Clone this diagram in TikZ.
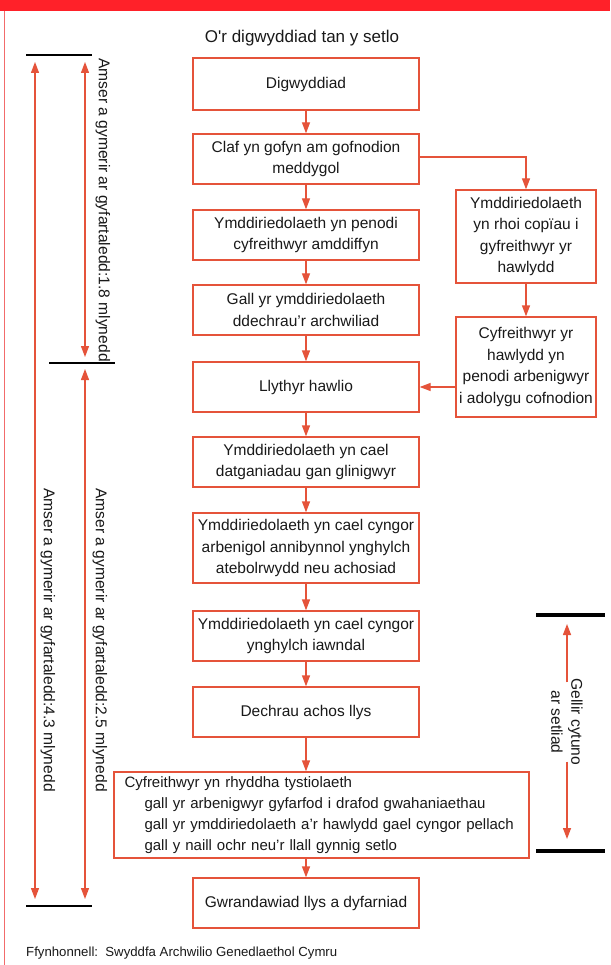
\documentclass[tikz,border=0pt]{standalone}
\usepackage{fontspec}
\setmainfont{Liberation Sans}
\usetikzlibrary{arrows.meta}
\definecolor{lnred}{HTML}{E5533A}
\definecolor{barred}{HTML}{FF2129}
\definecolor{brdred}{HTML}{F26B6B}
\tikzset{
  box/.style={draw=lnred, line width=1.3pt, minimum width=226pt, minimum height=50pt, align=center, inner sep=0pt, font=\fontsize{15.5}{21.5}\selectfont, text=black!90},
  rbox/.style={box, minimum width=140pt},
  flow/.style={draw=lnred, line width=1.3pt, -{Triangle[length=11pt,width=8pt]}},
  dflow/.style={draw=lnred, line width=1.3pt, {Triangle[length=11pt,width=8pt]}-{Triangle[length=11pt,width=8pt]}},
  tick/.style={draw=black, line width=1.2pt},
  thick tick/.style={draw=black, line width=4.5pt},
  vlabel/.style={rotate=-90, font=\fontsize{15.6}{20}\selectfont, text=black!90, align=center, inner sep=0pt}
}
\begin{document}
\begin{tikzpicture}[x=1pt,y=-1pt]
\useasboundingbox (0,0) rectangle (610,965);
\fill[white] (0,0) rectangle (610,965);
% frame
\fill[barred] (0,0) rectangle (610,11);
\draw[brdred, line width=1.5pt] (4.5,11) -- (4.5,965);
% title
\node[font=\fontsize{17}{20}\selectfont, text=black!90] (title) at (302,38) {O\textquotesingle r digwyddiad tan y setlo};
% main column
\node[box, minimum height=52pt] (dig) at (306,84) {Digwyddiad};
\node[box] (claf) at (306,159) {Claf yn gofyn am gofnodion\\meddygol};
\node[box] (penodi) at (306,235) {Ymddiriedolaeth yn penodi\\cyfreithwyr amddiffyn};
\node[box] (gall) at (306,310) {Gall yr ymddiriedolaeth\\ddechrau’r archwiliad};
\node[box] (llythyr) at (306,387) {Llythyr hawlio};
\node[box] (datg) at (306,462) {Ymddiriedolaeth yn cael\\datganiadau gan glinigwyr};
\node[box, minimum height=70pt] (arben) at (306,548) {Ymddiriedolaeth yn cael cyngor\\arbenigol annibynnol ynghylch\\atebolrwydd neu achosiad};
\node[box] (iawndal) at (306,636) {Ymddiriedolaeth yn cael cyngor\\ynghylch iawndal};
\node[box] (dechrau) at (306,712) {Dechrau achos llys};
\node[box, minimum width=415pt, minimum height=86pt, align=left, text width=410pt, inner xsep=2.5pt, font=\fontsize{15}{21}\selectfont] (cyfr) at (321.5,815) {\hspace*{8pt}Cyfreithwyr yn rhyddha tystiolaeth\\
\hspace*{28pt}gall yr arbenigwyr gyfarfod i drafod gwahaniaethau\\
\hspace*{28pt}gall yr ymddiriedolaeth a’r hawlydd gael cyngor pellach\\
\hspace*{28pt}gall y naill ochr neu’r llall gynnig setlo};
\node[box] (gwran) at (306,903) {Gwrandawiad llys a dyfarniad};
% right column
\node[rbox, minimum height=93pt] (rhoi) at (526,236.5) {Ymddiriedolaeth\\yn rhoi copïau i\\gyfreithwyr yr\\hawlydd};
\node[rbox, minimum height=100pt] (cyfrh) at (526,367) {Cyfreithwyr yr\\hawlydd yn\\penodi arbenigwyr\\i adolygu cofnodion};
% main arrows
\draw[flow] (dig) -- (claf);
\draw[flow] (claf) -- (penodi);
\draw[flow] (penodi) -- (gall);
\draw[flow] (gall) -- (llythyr);
\draw[flow] (llythyr) -- (datg);
\draw[flow] (datg) -- (arben);
\draw[flow] (arben) -- (iawndal);
\draw[flow] (iawndal) -- (dechrau);
\draw[flow] (dechrau.south) -- (dechrau.south |- cyfr.north);
\draw[flow] (dechrau.south |- cyfr.south) -- (gwran.north);
\draw[flow] (claf.east |- 0,157) -| (rhoi.north);
\draw[flow] (rhoi) -- (cyfrh);
\draw[flow] (cyfrh.west |- llythyr.east) -- (llythyr.east);
% left time brackets
\coordinate (tA) at (26,55); \coordinate (tB) at (92,55);
\coordinate (mA) at (49,363); \coordinate (mB) at (115,363);
\coordinate (bA) at (26,906); \coordinate (bB) at (92,906);
\draw[tick] (tA) -- (tB);
\draw[tick] (mA) -- (mB);
\draw[tick] (bA) -- (bB);
\coordinate (a1t) at (85,62); \coordinate (a1b) at (85,357);
\coordinate (a2t) at (85,369); \coordinate (a2b) at (85,899);
\coordinate (a3t) at (35,62); \coordinate (a3b) at (35,899);
\draw[dflow] (a1t) -- (a1b);
\draw[dflow] (a2t) -- (a2b);
\draw[dflow] (a3t) -- (a3b);
\node[vlabel] (l18) at (103,210) {Amser a gymerir ar gyfartaledd:1.8 mlynedd};
\node[vlabel] (l25) at (100,640) {Amser a gymerir ar gyfartaledd:2.5 mlynedd};
\node[vlabel] (l43) at (48,640) {Amser a gymerir ar gyfartaledd:4.3 mlynedd};
% right settlement bracket
\coordinate (sA) at (536,615); \coordinate (sB) at (605,615);
\coordinate (eA) at (536,851); \coordinate (eB) at (605,851);
\draw[thick tick] (sA) -- (sB);
\draw[thick tick] (eA) -- (eB);
\node[vlabel] (gellir) at (567,722) {Gellir cytuno\\ar setliad};
\coordinate (g1) at (567,624); \coordinate (g2) at (567,839);
\draw[flow] ([yshift=-4pt]gellir.west) -- (g1);
\draw[flow] ([yshift=4pt]gellir.east) -- (g2);
% footer
\node[anchor=west, font=\fontsize{13.2}{15}\selectfont, text=black!90, inner sep=0pt] (src) at (26,953) {Ffynhonnell:\ \ Swyddfa Archwilio Genedlaethol Cymru};
\end{tikzpicture}
\end{document}
